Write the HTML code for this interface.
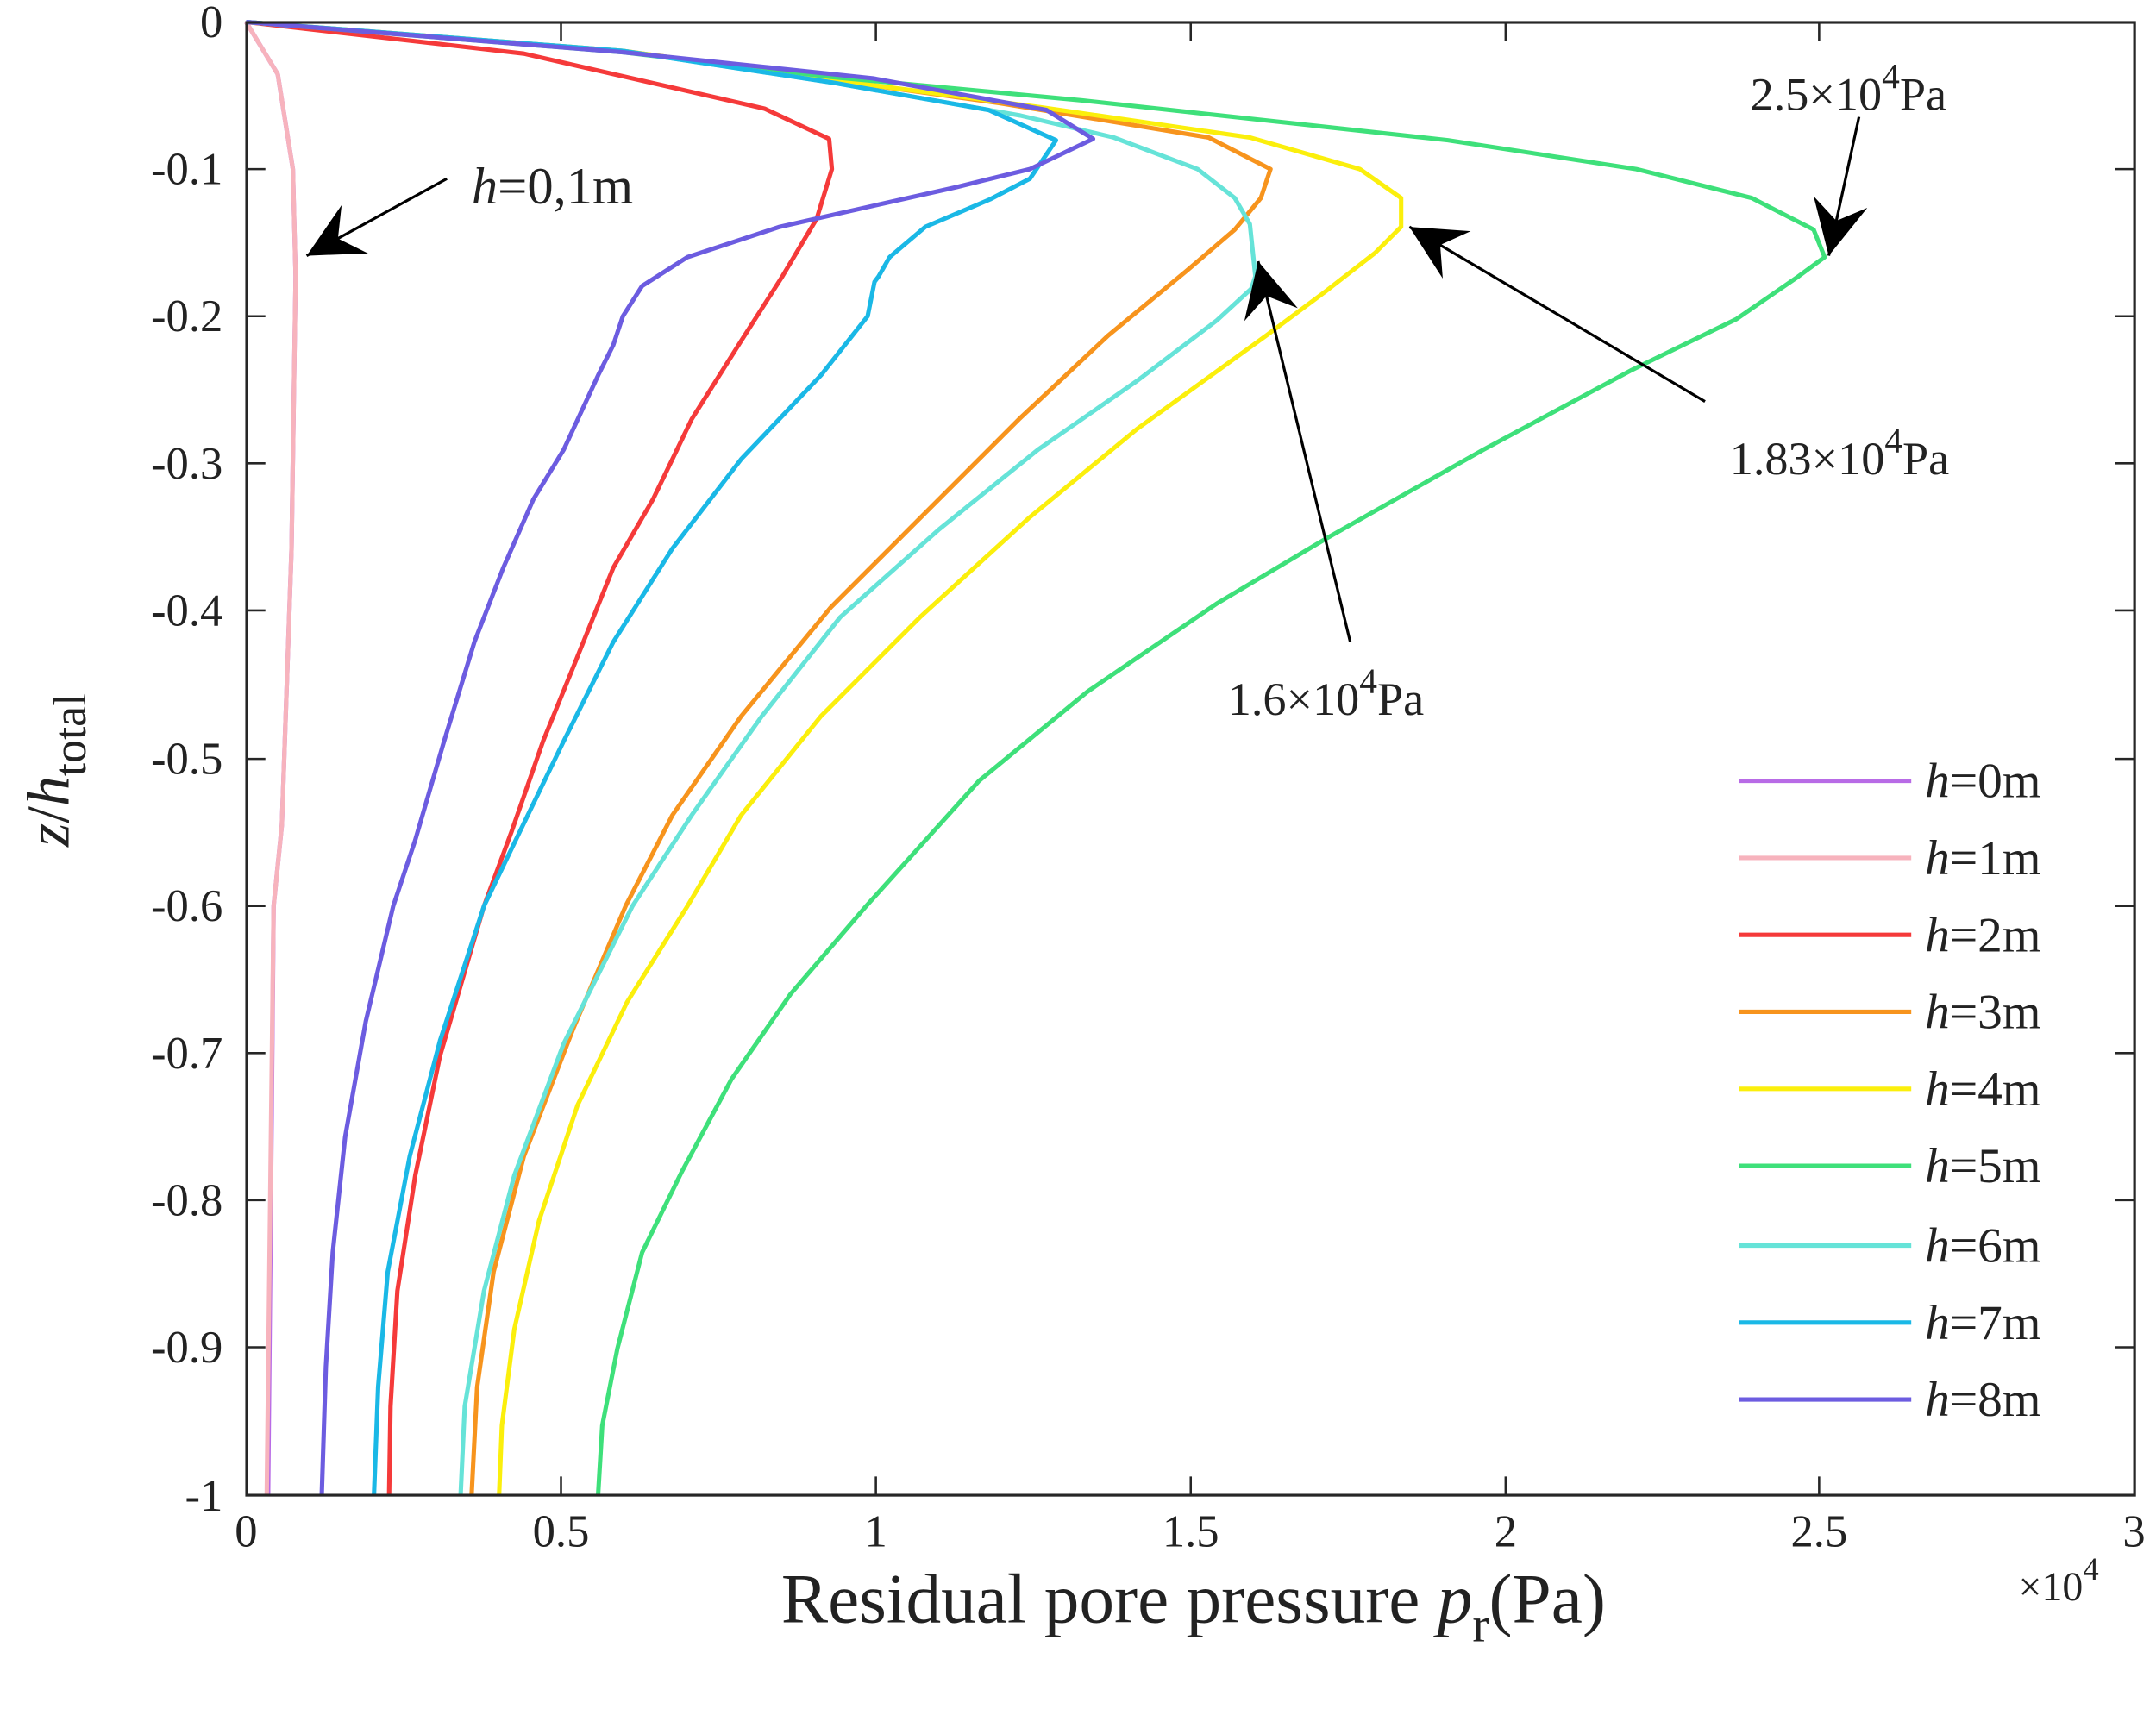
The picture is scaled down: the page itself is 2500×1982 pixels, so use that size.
<!DOCTYPE html>
<html><head><meta charset="utf-8"><style>
html,body{margin:0;padding:0;background:#fff;}
svg{display:block;}
text{font-family:"Liberation Serif",serif;fill:#222;}
</style></head><body>
<svg width="2500" height="1982" viewBox="0 0 1568 1243.1" xmlns="http://www.w3.org/2000/svg">
<defs>
<marker id="ah2" viewBox="0 0 10 10" refX="10" refY="5" markerWidth="40" markerHeight="40" markerUnits="userSpaceOnUse" orient="auto">
<path d="M0,0 L10,5 L0,10 L3.5,5 z" fill="#000"/></marker>
</defs>
<g fill="none" stroke-width="3.2" stroke-linejoin="round">
<polyline stroke="#b86be6" points="179,16 202,54 213,123 215,201 212,400 205,600 199,659 195,1087"/>
<polyline stroke="#f7b3bd" points="179,16 202,54 213,123 215,201 212,400 205,600 199,659 194,1087"/>
<polyline stroke="#f53a3a" points="179,16 381,39 556,79 603,101 605,123 594,159 569,201 539,248 503,305 475,363 446,413 417,485 395,539 372,605 352,659 320,768 302,855 289,939 284,1023 283,1087"/>
<polyline stroke="#f7941d" points="179,16 453,37 605,58 727,75 879,100 924,123 917,144 898,167 863,197 806,244 741,305 669,377 604,442 539,521 489,593 455,659 417,748 381,841 359,925 347,1009 343,1087"/>
<polyline stroke="#fbef0c" points="179,16 453,37 605,58 757,78 909,100 989,123 1019,144 1019,165 1000,184 964,212 921,244 827,312 748,377 669,449 597,521 539,593 500,659 456,729 420,804 392,888 374,967 365,1037 363,1087"/>
<polyline stroke="#3ee07a" points="179,16 453,38 605,56 787,73 1053,102 1190,123 1274,144 1319,167 1327,187 1308,201 1263,232 1187,269 1079,327 964,392 885,439 791,503 712,568 630,659 575,723 532,785 496,852 467,911 449,981 438,1037 435,1087"/>
<polyline stroke="#66e3d8" points="179,16 453,37 605,60 742,84 810,100 871,123 898,144 909,163 913,201 910,210 885,233 827,277 755,327 683,385 611,449 554,521 503,593 460,659 410,759 374,855 352,939 338,1023 335,1087"/>
<polyline stroke="#1ab8e6" points="179,16 453,37 605,60 719,80 768,102 749,130 720,145 673,165 647,187 639,201 636,205 631,230 597,273 539,334 489,399 446,467 410,539 378,605 352,659 320,757 298,841 282,925 275,1009 272,1087"/>
<polyline stroke="#6c5ce0" points="179,16 453,38 635,57 761,80 795,101 749,123 696,136 567,165 500,187 467,208 453,230 446,251 435,273 410,327 388,363 366,413 345,467 323,539 302,611 286,659 266,743 251,827 242,911 237,994 234,1087"/>
</g>
<rect x="179.4" y="16.3" width="1373" height="1071.3" fill="none" stroke="#262626" stroke-width="2"/>
<g stroke="#262626" stroke-width="1.6">
<path d="M408,1088v-14M637,1088v-14M866,1088v-14M1095,1088v-14M1323,1088v-14M408,16v14M637,16v14M866,16v14M1095,16v14M1323,16v14"/>
<path d="M179,123h14M179,230h14M179,337h14M179,444h14M179,552h14M179,659h14M179,766h14M179,873h14M179,980h14M1552,123h-14M1552,230h-14M1552,337h-14M1552,444h-14M1552,552h-14M1552,659h-14M1552,766h-14M1552,873h-14M1552,980h-14"/>
</g>
<g font-size="33" text-anchor="end">
<text x="162" y="27">0</text><text x="162" y="134">-0.1</text><text x="162" y="241">-0.2</text><text x="162" y="348">-0.3</text><text x="162" y="455">-0.4</text><text x="162" y="563">-0.5</text><text x="162" y="670">-0.6</text><text x="162" y="777">-0.7</text><text x="162" y="884">-0.8</text><text x="162" y="991">-0.9</text><text x="162" y="1099">-1</text>
</g>
<g font-size="33" text-anchor="middle">
<text x="179" y="1125">0</text><text x="408" y="1125">0.5</text><text x="637" y="1125">1</text><text x="866" y="1125">1.5</text><text x="1095" y="1125">2</text><text x="1323" y="1125">2.5</text><text x="1552" y="1125">3</text>
</g>
<text x="1468" y="1164" font-size="30">×10<tspan font-size="23" dy="-15">4</tspan></text>
<text x="868" y="1180" font-size="51" text-anchor="middle">Residual pore pressure <tspan font-style="italic">p</tspan><tspan font-size="36" dy="14">r</tspan><tspan dy="-14">(Pa)</tspan></text>
<text transform="translate(50,560) rotate(-90)" font-size="44" text-anchor="middle"><tspan font-style="italic">z</tspan>/<tspan font-style="italic">h</tspan><tspan font-size="34" dy="12">total</tspan></text>
<g stroke-width="3.2">
<line x1="1265" y1="568" x2="1390" y2="568" stroke="#b86be6"/>
<line x1="1265" y1="624" x2="1390" y2="624" stroke="#f7b3bd"/>
<line x1="1265" y1="680" x2="1390" y2="680" stroke="#f53a3a"/>
<line x1="1265" y1="736" x2="1390" y2="736" stroke="#f7941d"/>
<line x1="1265" y1="792" x2="1390" y2="792" stroke="#fbef0c"/>
<line x1="1265" y1="848" x2="1390" y2="848" stroke="#3ee07a"/>
<line x1="1265" y1="906" x2="1390" y2="906" stroke="#66e3d8"/>
<line x1="1265" y1="962" x2="1390" y2="962" stroke="#1ab8e6"/>
<line x1="1265" y1="1018" x2="1390" y2="1018" stroke="#6c5ce0"/>
</g>
<g font-size="36">
<text x="1400" y="580"><tspan font-style="italic">h</tspan>=0m</text>
<text x="1400" y="636"><tspan font-style="italic">h</tspan>=1m</text>
<text x="1400" y="692"><tspan font-style="italic">h</tspan>=2m</text>
<text x="1400" y="748"><tspan font-style="italic">h</tspan>=3m</text>
<text x="1400" y="804"><tspan font-style="italic">h</tspan>=4m</text>
<text x="1400" y="860"><tspan font-style="italic">h</tspan>=5m</text>
<text x="1400" y="918"><tspan font-style="italic">h</tspan>=6m</text>
<text x="1400" y="974"><tspan font-style="italic">h</tspan>=7m</text>
<text x="1400" y="1030"><tspan font-style="italic">h</tspan>=8m</text>
</g>
<g stroke="#000" stroke-width="2">
<line x1="325" y1="130" x2="223" y2="186" marker-end="url(#ah2)"/>
<line x1="1352" y1="85" x2="1330" y2="186" marker-end="url(#ah2)"/>
<line x1="1240" y1="292" x2="1025" y2="165" marker-end="url(#ah2)"/>
<line x1="982" y1="467" x2="915" y2="190" marker-end="url(#ah2)"/>
</g>
<text x="343" y="148" font-size="38"><tspan font-style="italic">h</tspan>=0,1m</text>
<text x="1273" y="80" font-size="34">2.5×10<tspan font-size="26" dy="-16">4</tspan><tspan dy="16">Pa</tspan></text>
<text x="1258" y="345" font-size="34">1.83×10<tspan font-size="26" dy="-16">4</tspan><tspan dy="16">Pa</tspan></text>
<text x="893" y="520" font-size="34">1.6×10<tspan font-size="26" dy="-16">4</tspan><tspan dy="16">Pa</tspan></text>
</svg>
</body></html>
